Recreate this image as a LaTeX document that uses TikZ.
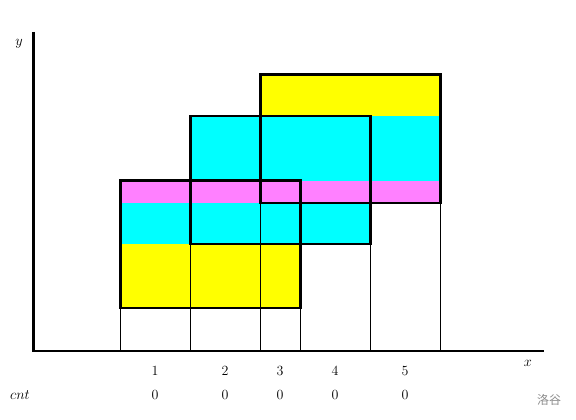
\documentclass[tikz,border=0pt]{standalone}
\usepackage{fontspec}
\newfontfamily\cjkfont{Noto Sans CJK SC}
\usepackage{xcolor}
\usetikzlibrary{positioning}

\definecolor{bandYellow}{RGB}{255,255,0}
\definecolor{bandCyan}{RGB}{0,255,255}
\definecolor{bandPink}{RGB}{255,128,255}

\begin{document}
\begin{tikzpicture}[
  x=1pt, y=-1pt,
  rectBox/.style={draw=black, line width=2.7pt},
  guide/.style={draw=black, line width=0.6pt},
  axisLine/.style={draw=black, line width=2.4pt},
  lbl/.style={font=\fontsize{14}{16}\selectfont, inner sep=0pt},
  wm/.style={font=\cjkfont\fontsize{12}{14}\selectfont, text=black!45, inner sep=0pt}
]
  \useasboundingbox (0,0) rectangle (576,420);

  % Scan bands
  \fill[bandYellow] (260.5,74.5) rectangle (440.5,116);
  \fill[bandCyan]   (190.5,116) rectangle (440.5,180.5);
  \fill[bandPink]   (120.5,180.5) rectangle (440.5,203);
  \fill[bandCyan]   (120.5,203) rectangle (370.5,244);
  \fill[bandYellow] (120.5,244) rectangle (300.5,308);

  % Axes
  \coordinate (origin) at (33.5,351);
  \coordinate (xEnd) at (544,351);
  \coordinate (yEnd) at (33.5,32);

  % Guides from each corner down to the x axis
  \foreach \gx/\gy in {120.5/308, 300.5/308, 190.5/244, 370.5/244,
                       260.5/203, 440.5/203}
    \draw[guide] (\gx,\gy) -- (\gx,351);

  % Rectangles
  \draw[rectBox] (120.5,180.5) rectangle (300.5,308);
  \draw[rectBox] (190.5,116) rectangle (370.5,244);
  \draw[rectBox] (260.5,74.5) rectangle (440.5,203);

  \draw[axisLine] (yEnd) -- (origin) -- (xEnd);

  \node[lbl] (yLbl) at (19,44) {$y$};
  \node[lbl] (xLbl) at (528,363) {$x$};

  % Segment indices and counters
  \node[lbl] (cntLbl) at (20,395) {$cnt$};
  \foreach \i/\cx in {1/155, 2/225, 3/280, 4/335, 5/405} {
    \node[lbl] (idx\i) at (\cx,371) {\i};
    \node[lbl] (cnt\i) at (\cx,395) {0};
  }

  \node[wm] (mark) at (549,400) {洛谷};
\end{tikzpicture}
\end{document}
